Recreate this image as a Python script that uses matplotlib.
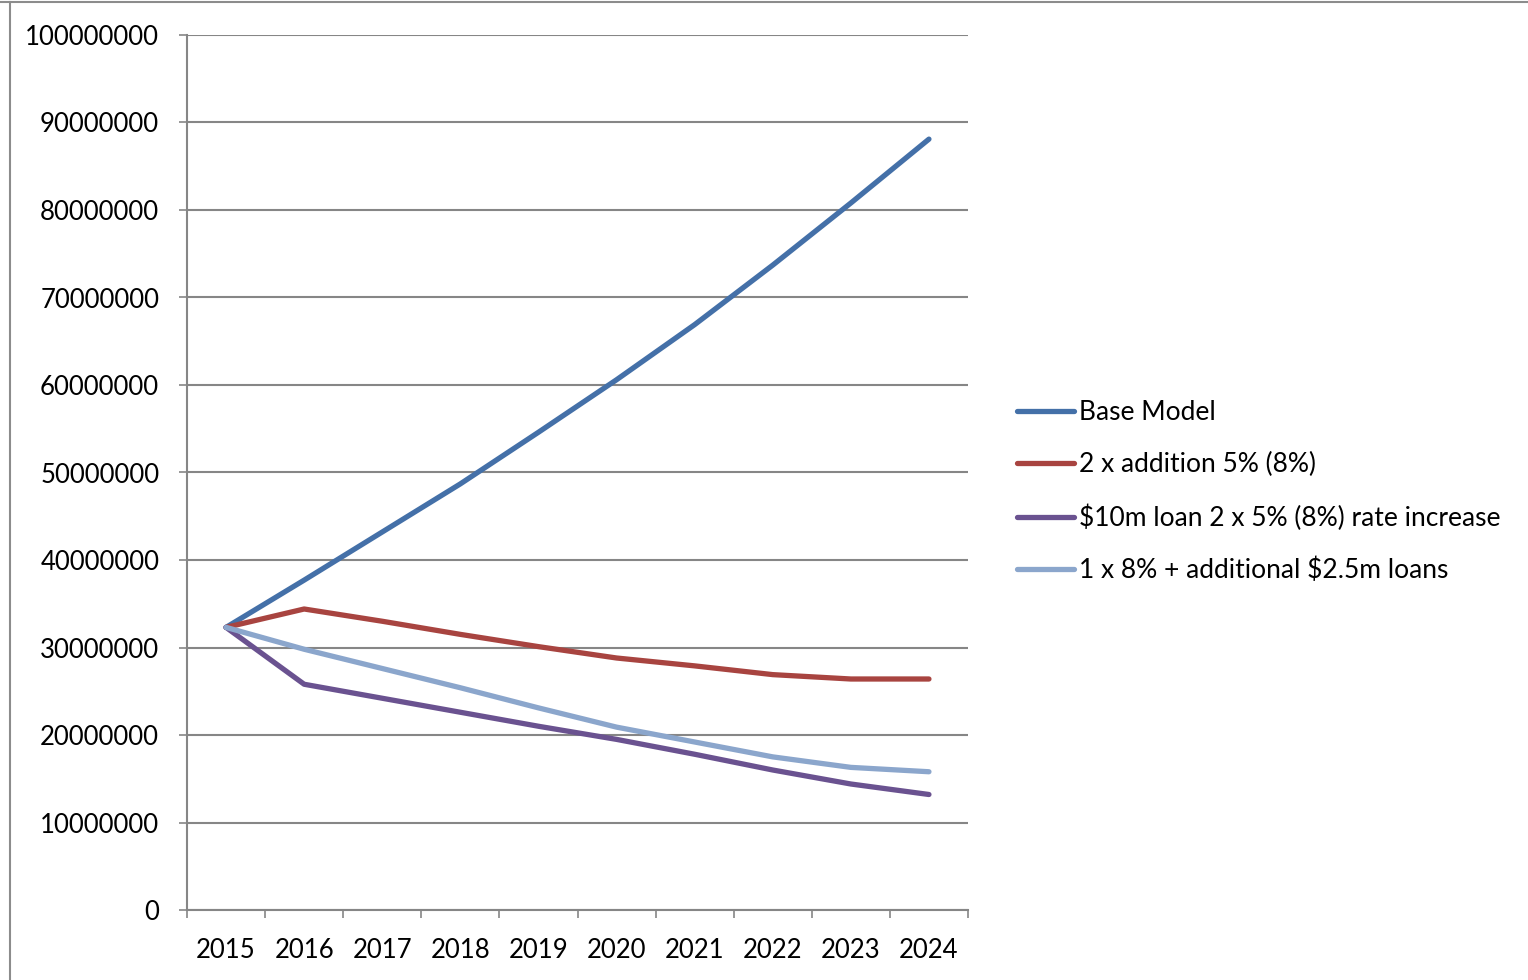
import matplotlib.pyplot as plt
from matplotlib.lines import Line2D

years = ["2015", "2016", "2017", "2018", "2019", "2020", "2021", "2022", "2023", "2024"]

base_model = [32.3, 37.7, 43.2, 48.7, 54.6, 60.6, 66.9, 73.7, 80.8, 88.1]
two_x_addition = [32.3, 34.4, 33.0, 31.5, 30.1, 28.8, 27.9, 26.9, 26.4, 26.4]
loan_10m = [32.3, 25.8, 24.2, 22.6, 21.0, 19.5, 17.8, 16.0, 14.4, 13.2]
extra_loans = [32.3, 29.8, 27.6, 25.4, 23.1, 20.9, 19.2, 17.5, 16.3, 15.8]

series_names = ["Base Model", "2 x addition 5% (8%)",
                "$10m loan 2 x 5% (8%) rate increase",
                "1 x 8% + additional $2.5m loans"]
series_colors = ["#4470A8", "#A84440", "#6A5290", "#8BA6CC"]

plt.rcParams['font.family'] = ['Lato', 'DejaVu Sans']

fig = plt.figure(figsize=(15.28, 9.8), dpi=100)
ax = fig.add_axes([187 / 1528, 70 / 980, 781 / 1528, 875 / 980])

x = list(range(len(years)))
for vals, name, col in zip([base_model, two_x_addition, loan_10m, extra_loans],
                           series_names, series_colors):
    ax.plot(x, [v * 1e6 for v in vals], color=col, lw=3.8, label=name,
            solid_capstyle='round', solid_joinstyle='round', zorder=3)

grid_col = "#868686"
ax.set_ylim(0, 100e6)
ax.set_yticks([i * 10e6 for i in range(11)])
ax.set_yticklabels([str(i * 10000000) for i in range(11)], fontsize=18.5)
ax.yaxis.grid(True, color=grid_col, lw=1.5)
ax.set_axisbelow(True)

ax.set_xlim(-0.5, len(years) - 0.5)
ax.set_xticks([i - 0.5 for i in range(len(years) + 1)])
ax.set_xticklabels([])
ax.set_xticks(x, minor=True)
ax.set_xticklabels(years, minor=True, fontsize=18.5)
ax.tick_params(axis='x', which='minor', length=0, pad=20)
ax.tick_params(axis='x', which='major', length=6, width=1.2, color=grid_col)
ax.tick_params(axis='y', length=6, width=1.2, color=grid_col, pad=14)

for side in ['top', 'right']:
    ax.spines[side].set_visible(False)
for side in ['left', 'bottom']:
    ax.spines[side].set_color(grid_col)
    ax.spines[side].set_linewidth(1.5)

ax.legend(loc='center left', bbox_to_anchor=(1.032, 0.478), frameon=False,
          fontsize=19, handlelength=2.16, handletextpad=0.2, labelspacing=1.02)

# outer chart frame
fig.add_artist(Line2D([0, 1], [1 - 2 / 980, 1 - 2 / 980], color="#8c8c8c", lw=1.5))
fig.add_artist(Line2D([10 / 1528, 10 / 1528], [0, 1 - 2 / 980], color="#8c8c8c", lw=1.5))

fig.savefig("out.png", dpi=100)
